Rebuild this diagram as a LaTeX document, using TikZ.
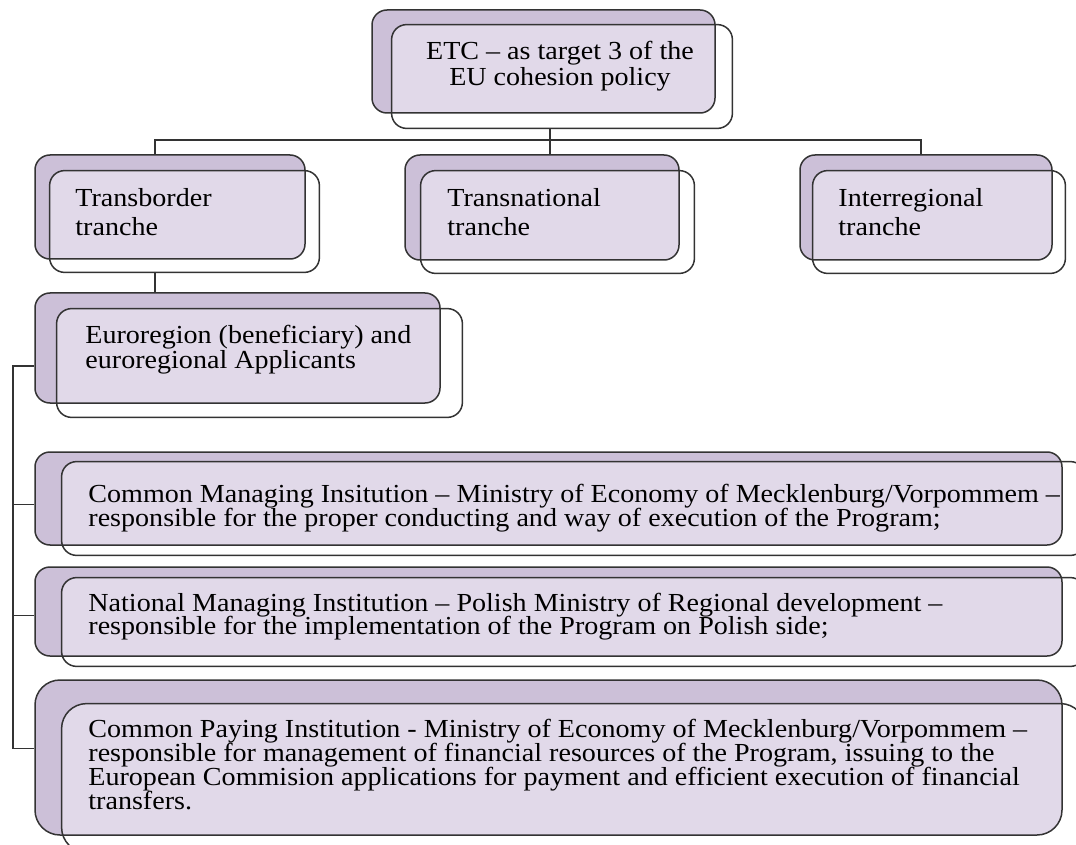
\documentclass[tikz,border=0pt]{standalone}
\usepackage{fontspec}
\setmainfont[FakeStretch=1.08]{Liberation Serif}
\usetikzlibrary{fit,calc}
\definecolor{ink}{HTML}{333333}
\definecolor{lilac}{HTML}{CCC0D8}
\definecolor{mist}{HTML}{E1D9E9}
\lineskiplimit=-10pt

% back box + shifted front box, overlap tinted
\newcommand{\stackbox}[6][7.5pt]{%
  \node[frontbox,rounded corners=#1,fit={#5 #6}] (#2) {};
  \node[backbox,rounded corners=#1,fit={#3 #4},
    path picture={\fill[mist,rounded corners=#1] (#2.south west) rectangle (#2.north east);}] (#2-b) {};
  \draw[edge,rounded corners=#1] (#2.south west) rectangle (#2.north east);
}

\begin{document}
\begin{tikzpicture}[x=0.5pt,y=-0.5pt,
  backbox/.style={draw=ink,fill=lilac,line width=0.75pt,inner sep=0pt},
  frontbox/.style={inner sep=0pt},
  edge/.style={draw=ink,line width=0.75pt},
  txt/.style={inner sep=0pt,anchor=west,align=left,text=black}]
  \useasboundingbox (0,0) rectangle (1076,845);
  \clip (0,0) rectangle (1076,845);

  % boxes
  \stackbox{etc}{(372,10)}{(715,113)}{(392,25)}{(732,128)}
  \stackbox{tb}{(35,155)}{(305,259)}{(50,171)}{(319,272)}
  \stackbox{tn}{(405,155)}{(679,260)}{(421,171)}{(694,273)}
  \stackbox{ir}{(800,155)}{(1052,260)}{(813,171)}{(1065,273)}
  \stackbox{eu}{(35,293)}{(440,403)}{(57,309)}{(462,417)}
  \stackbox{cmi}{(35,452)}{(1062,545)}{(62,462)}{(1085,555)}
  \stackbox{nmi}{(35,567)}{(1062,656)}{(62,578)}{(1085,666)}
  \stackbox[12.5pt]{cpi}{(35,680)}{(1062,835)}{(62,704)}{(1085,852)}

  % texts
  \node[txt,anchor=center,align=center,font=\fontsize{13}{13}\selectfont] (etc-t) at (560,66)
    {ETC – as target 3 of the\\EU cohesion policy};
  \node[txt,font=\fontsize{13}{14.5}\selectfont] (tb-t) at (75,212) {Transborder\\tranche};
  \node[txt,font=\fontsize{13}{14.5}\selectfont] (tn-t) at (447,212) {Transnational\\tranche};
  \node[txt,font=\fontsize{13}{14.5}\selectfont] (ir-t) at (838,212) {Interregional\\tranche};
  \node[txt,font=\fontsize{13}{12.5}\selectfont] (eu-t) at (85,350)
    {Euroregion (beneficiary) and\\euroregional Applicants};
  \node[txt,font=\fontsize{13}{12}\selectfont] (cmi-t) at (88,508)
    {Common Managing Insitution – Ministry of Economy of Mecklenburg/Vorpommem –\\
     responsible for the proper conducting and way of execution of the Program;};
  \node[txt,font=\fontsize{13}{11.5}\selectfont] (nmi-t) at (88,617)
    {National Managing Institution – Polish Ministry of Regional development –\\
     responsible for the implementation of the Program on Polish side;};
  \node[txt,font=\fontsize{13}{12}\selectfont] (cpi-t) at (88,765)
    {Common Paying Institution - Ministry of Economy of Mecklenburg/Vorpommem –\\
     responsible for management of financial resources of the Program, issuing to the\\
     European Commision applications for payment and efficient execution of financial\\
     transfers.};

  % connectors
  \coordinate (hub) at (550,140);
  \coordinate (left) at (155,140);
  \coordinate (right) at (921,140);
  \coordinate (bus) at (13,0);
  \draw[edge] (hub |- etc.south) -- (hub);
  \draw[edge] (left |- tb-b.north) -- (left) -- (right) -- (right |- ir-b.north);
  \draw[edge] (hub) -- (hub |- tn-b.north);
  \draw[edge] (left |- tb.south) -- (left |- eu-b.north);
  \coordinate (t1) at ([yshift=-9pt]eu-b.west);
  \coordinate (t2) at ([yshift=-3pt]cmi-b.west);
  \coordinate (t3) at ([yshift=-2pt]nmi-b.west);
  \coordinate (t4) at ([yshift=4.5pt]cpi-b.west);
  \draw[edge] (t1) -| (bus |- t4) -- (t4);
  \draw[edge] (t2) -- (bus |- t2);
  \draw[edge] (t3) -- (bus |- t3);
\end{tikzpicture}
\end{document}
